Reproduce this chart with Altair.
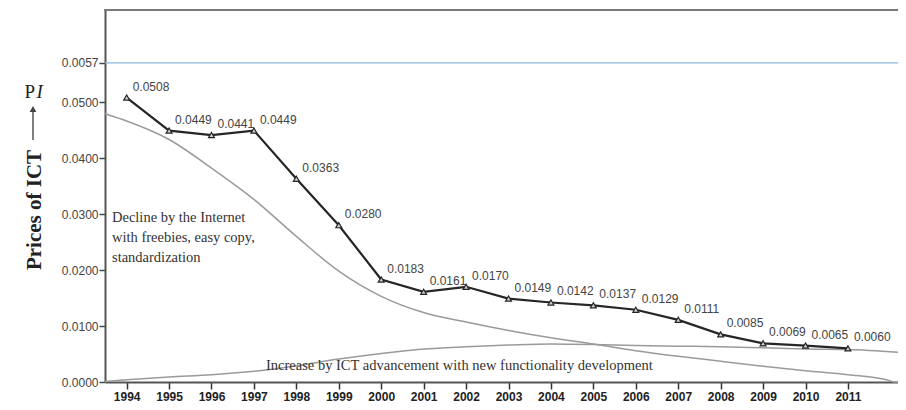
import altair as alt
import pandas as pd

# ---- data ----
years = list(range(1994, 2012))
prices = [0.0508, 0.0449, 0.0441, 0.0449, 0.0363, 0.0280, 0.0183, 0.0161, 0.0170,
          0.0149, 0.0142, 0.0137, 0.0129, 0.0111, 0.0085, 0.0069, 0.0065, 0.0060]

decline_x = [1993.49, 1994, 1995, 1996, 1997, 1998, 1999, 2000, 2001, 2002, 2003,
             2004, 2005, 2006, 2007, 2008, 2009, 2010, 2011, 2012, 2012.08, 2012.18]
decline_y = [0.0479, 0.0466, 0.0433, 0.0382, 0.0326, 0.0260, 0.0198, 0.0153, 0.0124,
             0.0107, 0.0092, 0.0079, 0.0068, 0.0056, 0.0046, 0.0037, 0.0028, 0.0020,
             0.0013, 0.0002, 0.0, 0.0]

increase_x = [1993.49, 1994, 1995, 1996, 1997, 1998, 1999, 2000, 2001, 2002, 2003,
              2004, 2005, 2006, 2007, 2008, 2009, 2010, 2011, 2012.18]
increase_y = [0.0001, 0.0004, 0.0009, 0.0013, 0.0019, 0.0029, 0.0041, 0.0051, 0.0059,
              0.0063, 0.0066, 0.0068, 0.0067, 0.0065, 0.0064, 0.0063, 0.0061, 0.0059,
              0.0058, 0.0053]

reference_level = [0.057]
y_ticks = [0.0, 0.01, 0.02, 0.03, 0.04, 0.05, 0.057]
x_ticks = years

decline_text = ["Decline by the Internet", "with freebies, easy copy,", "standardization"]
increase_text = "Increase by ICT advancement with new functionality development"
y_title = "Prices of ICT"

# ---- tables ----
main_df = pd.DataFrame({"year": years, "price": prices})
dec_df = pd.DataFrame({"year": decline_x, "price": decline_y})
inc_df = pd.DataFrame({"year": increase_x, "price": increase_y})
ref_df = pd.DataFrame({"price": reference_level})

W, H = 793, 372
xs = alt.Scale(domain=[1993.49, 2012.18], nice=False, zero=False)
ys = alt.Scale(domain=[0, 0.06643], nice=False, zero=True)

x_enc = alt.X("year:Q", scale=xs, axis=alt.Axis(
    values=x_ticks, format="d", title=None, grid=False,
    labelFont="Liberation Sans", labelFontSize=12, labelFontWeight="bold",
    labelColor="#222", tickSize=7, tickColor="#333", tickWidth=1.5,
    domainColor="#555", domainWidth=2, labelPadding=2, labelFlush=False))
y_enc = alt.Y("price:Q", scale=ys, axis=alt.Axis(
    values=y_ticks, title=None, grid=False,
    labelExpr="datum.value == 0.057 ? '0.0057' : format(datum.value, '.4f')",
    labelFont="Liberation Sans", labelFontSize=12, labelColor="#444",
    tickSize=6, tickColor="#444", tickWidth=1.5,
    domainColor="#555", domainWidth=2, labelPadding=1))

decline = alt.Chart(dec_df).mark_line(color="#9a9a9a", strokeWidth=1.5,
                                      interpolate="monotone").encode(x=x_enc, y=y_enc)
increase = alt.Chart(inc_df).mark_line(color="#9a9a9a", strokeWidth=1.5,
                                       interpolate="monotone").encode(x="year:Q", y="price:Q")
ref = alt.Chart(ref_df).mark_rule(color="#8ab8dc", strokeWidth=1.2).encode(y="price:Q")

main_line = alt.Chart(main_df).mark_line(color="#262626", strokeWidth=2.2).encode(
    x="year:Q", y="price:Q")
main_pts = alt.Chart(main_df).mark_point(shape="triangle-up", size=35, filled=True,
                                         fill="#cfcfcf", stroke="#262626",
                                         strokeWidth=1.2, opacity=1).encode(
    x="year:Q", y="price:Q")
labels = alt.Chart(main_df).mark_text(align="left", baseline="middle", dx=6, dy=-11,
                                      font="Liberation Sans", fontSize=12,
                                      color="#444").encode(
    x="year:Q", y="price:Q", text=alt.Text("price:Q", format=".4f"))

one = pd.DataFrame({"k": [0]})
serif = "Liberation Serif"
top_border = alt.Chart(one).mark_rule(color="#7a7a7a", strokeWidth=2).encode(
    x=alt.value(-1), x2=alt.value(W), y=alt.value(0))
dec_note = alt.Chart(one).mark_text(align="left", baseline="alphabetic", font=serif,
                                    fontSize=14.5, lineHeight=20, color="#333").encode(
    x=alt.value(7), y=alt.value(212), text=alt.value(decline_text))
inc_note = alt.Chart(one).mark_text(align="left", baseline="alphabetic", font=serif,
                                    fontSize=14.5, color="#333").encode(
    x=alt.value(161), y=alt.value(360), text=alt.value(increase_text))
title_txt = alt.Chart(one).mark_text(align="center", baseline="middle", angle=270,
                                     font=serif, fontSize=21, fontWeight="bold",
                                     color="#222").encode(
    x=alt.value(-70), y=alt.value(200), text=alt.value(y_title))
arrow = alt.Chart(one).mark_rule(color="#555", strokeWidth=1.5).encode(
    x=alt.value(-72), y=alt.value(130), y2=alt.value(101))
arrow_head = alt.Chart(one).mark_point(shape="triangle-up", size=45, filled=True,
                                       color="#444", opacity=1).encode(
    x=alt.value(-72), y=alt.value(99))
p_txt = alt.Chart(one).mark_text(align="right", baseline="middle", font=serif,
                                 fontSize=19, color="#222").encode(
    x=alt.value(-70), y=alt.value(82), text=alt.value("P"))
i_txt = alt.Chart(one).mark_text(align="left", baseline="middle", font=serif,
                                 fontSize=19, fontStyle="italic", color="#222").encode(
    x=alt.value(-68.5), y=alt.value(82), text=alt.value("I"))

chart = alt.layer(decline, increase, ref, main_line, main_pts, labels, top_border,
                  dec_note, inc_note, title_txt, arrow, arrow_head, p_txt,
                  i_txt).properties(
    width=W, height=H,
    autosize=alt.AutoSizeParams(type="none"),
    padding={"left": 97, "top": 2, "right": 0, "bottom": 26},
).configure_view(stroke=None).configure(background="white")

chart.save("out.html", embed_options={"renderer": "svg", "actions": False})
